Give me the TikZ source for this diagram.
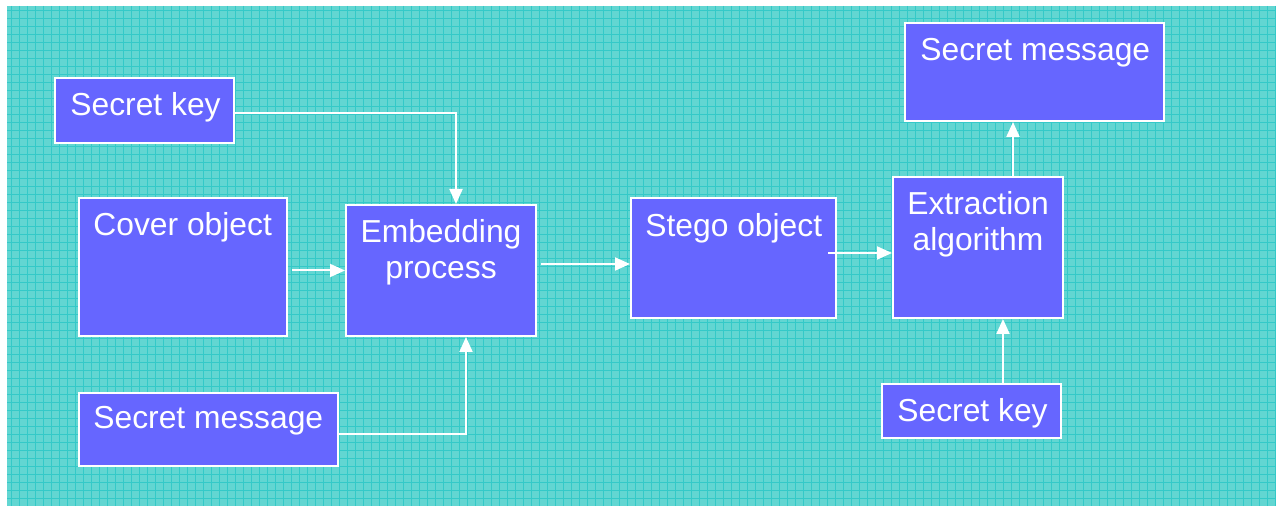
\documentclass[tikz,border=0pt]{standalone}
\usepackage{fontspec}
\setmainfont{Liberation Sans}
\usetikzlibrary{arrows.meta,positioning}
\definecolor{tealbg}{RGB}{98,214,210}
\definecolor{tealline}{RGB}{52,201,200}
\definecolor{boxblue}{RGB}{102,102,255}
\newdimen\pxu \pxu=0.5pt
\tikzset{
  box/.style={draw=white,fill=boxblue,line width=1pt,inner sep=0pt},
  lbl/.style={text=white,inner sep=0pt,font=\fontsize{15.9pt}{18pt}\selectfont},
  conn/.style={draw=white,line width=1pt,-{Triangle[length=7.5pt,width=6.5pt]}},
}
\begin{document}
\begin{tikzpicture}[x=0.5pt,y=-0.5pt]
\useasboundingbox (0,0) rectangle (1276,506);
% background
\fill[white] (0,0) rectangle (1276,506);
\fill[tealbg] (7,6) rectangle (1276,506);
\foreach \gx in {11,19,...,1275} \draw[tealline,line width=0.4pt] (\gx,6) -- (\gx,506);
\foreach \gy in {10,18,...,505} \draw[tealline,line width=0.4pt] (7,\gy) -- (1276,\gy);

% boxes
\node[box,minimum width=179\pxu,minimum height=65\pxu] (keyA) at (144.5,110.5) {};
\node[box,minimum width=208\pxu,minimum height=138\pxu] (cover) at (183,267) {};
\node[box,minimum width=259\pxu,minimum height=73\pxu] (msgA) at (208.5,429.5) {};
\node[box,minimum width=190\pxu,minimum height=131\pxu] (embed) at (441,270.5) {};
\node[box,minimum width=205\pxu,minimum height=120\pxu] (stego) at (733.5,258) {};
\node[box,minimum width=170\pxu,minimum height=141\pxu] (extract) at (978,247.5) {};
\node[box,minimum width=259\pxu,minimum height=98\pxu] (msgB) at (1034.5,72) {};
\node[box,minimum width=179\pxu,minimum height=54\pxu] (keyB) at (971.5,411) {};

% texts
\node[lbl,anchor=base west] (keyAtext) at (70,116) {Secret key};
\node[lbl,anchor=base west] (covertext) at (93,236) {Cover object};
\node[lbl,anchor=base west] (msgAtext) at (93,429) {Secret message};
\node[lbl,anchor=base] (embedtext) at (441,243) {Embedding};
\node[lbl,anchor=base] (embedtextb) at (441,279) {process};
\node[lbl,anchor=base west] (stegotext) at (645,237) {Stego object};
\node[lbl,anchor=base] (extracttext) at (978,215) {Extraction};
\node[lbl,anchor=base] (extracttextb) at (978,251) {algorithm};
\node[lbl,anchor=base west] (msgBtext) at (920,61) {Secret message};
\node[lbl,anchor=base west] (keyBtext) at (897,422) {Secret key};

% connectors
\draw[conn] ([yshift=-3\pxu]keyA.east) -| ([xshift=15\pxu]embed.north);
\draw[conn] ([xshift=4\pxu]cover.east |- embed.west) -- (embed.west);
\draw[conn] ([yshift=-5\pxu]msgA.east) -| ([xshift=25\pxu]embed.south);
\draw[conn] ([xshift=4\pxu,yshift=6.5\pxu]embed.east) coordinate (e1) -- (e1 -| stego.west);
\draw[conn] ([xshift=-9\pxu,yshift=5\pxu]stego.east) coordinate (s1) -- (s1 -| extract.west);
\draw[conn] ([xshift=31.5\pxu]keyB.north) coordinate (k1) -- (k1 |- extract.south);
\draw[conn] ([xshift=35\pxu]extract.north) coordinate (x1) -- (x1 |- msgB.south);
\end{tikzpicture}
\end{document}
